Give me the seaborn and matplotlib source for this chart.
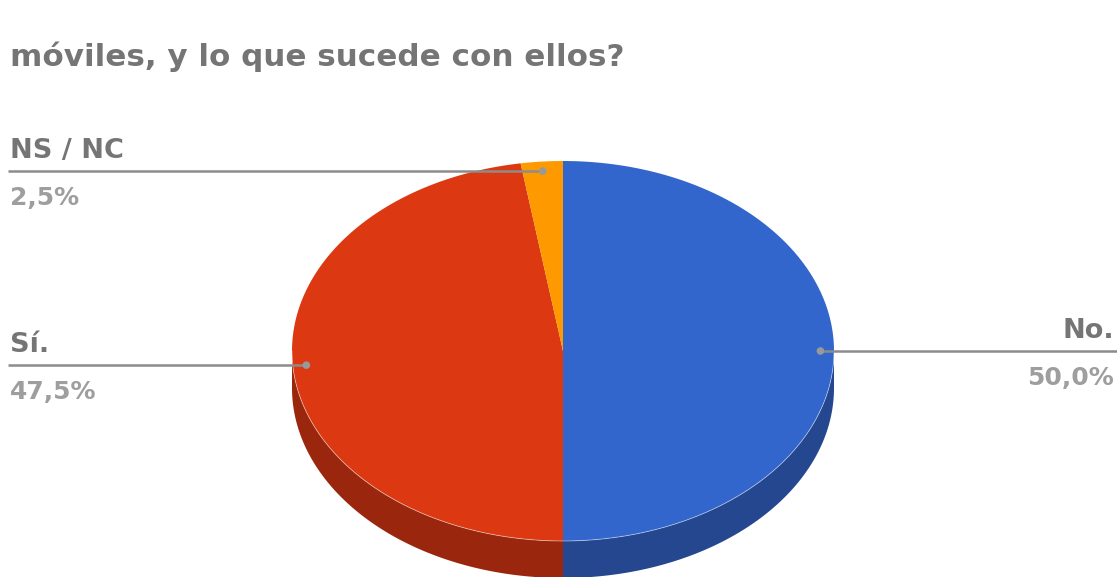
import numpy as np
import matplotlib
matplotlib.use("Agg")
import matplotlib.pyplot as plt
from matplotlib.patches import Polygon
import seaborn as sns
import pandas as pd

title = "móviles, y lo que sucede con ellos?"
categories = ["No.", "Sí.", "NS / NC"]
shares = [50.0, 47.5, 2.5]
top_colors = ["#3366CC", "#DC3912", "#FF9900"]
side_colors = ["#24478F", "#9A270D", "#B36B00"]

sns.set_theme(style="white")
plt.rcParams["font.family"] = ["DejaVu Sans"]

fig = plt.figure(figsize=(11.17, 5.77), dpi=100)
ax = fig.add_axes([0, 0, 1, 1])

# tilted pie geometry (pixel units)
cx, cy, rx, ry, depth = 563, 351, 271, 190, 37


def rim(t0, t1, n=240):
    t = np.radians(np.linspace(t0, t1, n))
    return cx + rx * np.sin(t), cy - ry * np.cos(t)


fractions = np.array(shares) / sum(shares)
bounds = np.concatenate([[0], np.cumsum(fractions) * 360])

# visible side walls (front half of the disc)
for i in range(len(shares)):
    a0, a1 = max(bounds[i], 90), min(bounds[i + 1], 270)
    if a1 > a0:
        x, y = rim(a0, a1)
        xs = np.concatenate([x, x[::-1]])
        ys = np.concatenate([y, y[::-1] + depth])
        ax.add_patch(Polygon(np.column_stack([xs, ys]), closed=True,
                             fc=side_colors[i], ec="none", zorder=1))

# top faces
for i in range(len(shares)):
    x, y = rim(bounds[i], bounds[i + 1])
    pts = np.column_stack([np.concatenate([[cx], x]), np.concatenate([[cy], y])])
    ax.add_patch(Polygon(pts, closed=True, fc=top_colors[i], ec="none", zorder=2))
# light rim on the top face edge
x, y = rim(90, 270)
ax.plot(x, y, color="white", lw=0.6, alpha=0.5, zorder=3)

# leader lines and labels
mids = (bounds[:-1] + bounds[1:]) / 2
anchor = pd.DataFrame({
    "x": cx + 0.95 * rx * np.sin(np.radians(mids)),
    "y": cy - 0.95 * ry * np.cos(np.radians(mids)),
    "label": categories,
    "share": shares,
})
for px, py, name, v in zip(anchor["x"], anchor["y"], anchor["label"], anchor["share"]):
    right = px > cx
    end = 1117 if right else 8
    ax.plot([px, end], [py, py], color="#8c8c8c", lw=1.8, zorder=4,
            solid_capstyle="butt")
    tx = 1114 if right else 10
    ha = "right" if right else "left"
    ax.text(tx, py - 13, name, ha=ha, va="baseline", fontsize=19.5,
            fontweight="bold", color="#757575")
    ax.text(tx, py + 34, f"{v:.1f}".replace(".", ",") + "%", ha=ha,
            va="baseline", fontsize=18, fontweight="bold", color="#9e9e9e")
sns.scatterplot(data=anchor, x="x", y="y", ax=ax, color="#999999", s=30,
                edgecolor="none", zorder=5, legend=False)
ax.set_xlim(0, 1117)
ax.set_ylim(577, 0)
ax.axis("off")

ax.text(10, 66, title, ha="left", va="baseline", fontsize=22.3,
        fontweight="bold", color="#757575")

fig.savefig("out.png", dpi=100)
